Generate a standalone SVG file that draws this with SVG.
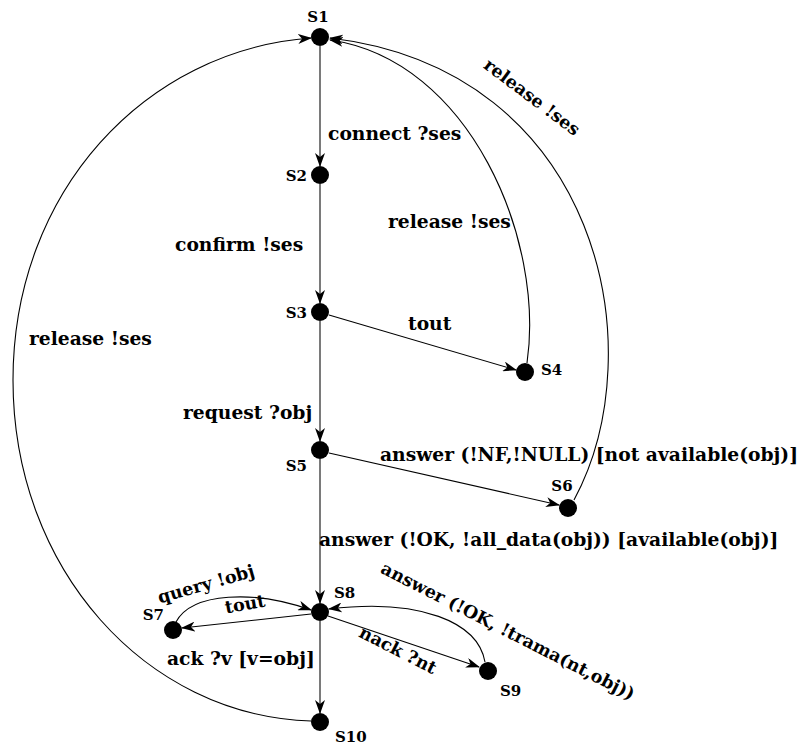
<svg xmlns="http://www.w3.org/2000/svg" width="806" height="746" viewBox="0 0 806 746">
  <style>
    .node { fill: #000; }
    .name { font-family: "DejaVu Serif", "Liberation Serif", serif; font-weight: bold; font-size: 15px; fill: #000; }
    .lbl { font-family: "DejaVu Serif", "Liberation Serif", serif; font-weight: bold; font-size: 18.7px; fill: #000; }
    .rot { font-family: "DejaVu Serif", "Liberation Serif", serif; font-weight: bold; font-size: 17.5px; fill: #000; }
    .spine { stroke: #7a7a7a; stroke-width: 2; fill: none; }
    .edge { stroke: #000; stroke-width: 1.1; fill: none; }
  </style>
  <defs>
    <marker id="ah" viewBox="0 0 14 10" refX="13" refY="5" markerWidth="14" markerHeight="10" markerUnits="userSpaceOnUse" orient="auto">
      <path d="M0,0 L14,5 L0,10 L4,5 Z" fill="#000"/>
    </marker>
  </defs>
  <rect width="806" height="746" fill="#fff"/>

  <g id="connectors">
    <!-- main vertical chain -->
    <path class="spine" d="M320,46 L320,166" marker-end="url(#ah)"/>
    <path class="spine" d="M320,184 L320,303" marker-end="url(#ah)"/>
    <path class="spine" d="M320,321 L320,441" marker-end="url(#ah)"/>
    <path class="spine" d="M320,459 L320,603" marker-end="url(#ah)"/>
    <path class="spine" d="M320,621 L320,713" marker-end="url(#ah)"/>
    <!-- S3 -> S4 tout -->
    <path class="edge" d="M329,315 L516,370" marker-end="url(#ah)"/>
    <!-- S4 -> S1 release -->
    <path class="edge" d="M527,363 C545,240 470,60 330,40" marker-end="url(#ah)"/>
    <!-- S6 -> S1 release -->
    <path class="edge" d="M574,500 C655,350 600,70 330,38" marker-end="url(#ah)"/>
    <!-- S5 -> S6 answer -->
    <path class="edge" d="M329,453 L559,505" marker-end="url(#ah)"/>
    <!-- S10 -> S1 release (left arc) -->
    <path class="edge" d="M311,721 C146,716 13,569 13,380 C13,191 146,50 311,38" marker-end="url(#ah)"/>
    <!-- S7 -> S8 query -->
    <path class="edge" d="M176,622 C192,592 255,590 311,610" marker-end="url(#ah)"/>
    <!-- S8 -> S7 tout -->
    <path class="edge" d="M311,614 L182,628" marker-end="url(#ah)"/>
    <!-- S8 -> S9 nack -->
    <path class="edge" d="M328,616 L479,667" marker-end="url(#ah)"/>
    <!-- S9 -> S8 answer -->
    <path class="edge" d="M485,662 C478,622 420,598 329,609" marker-end="url(#ah)"/>
  </g>

  <g id="S1"><circle class="node" cx="320" cy="37" r="9"/><text class="name" x="318" y="22" text-anchor="middle">S1</text></g>
  <g id="S2"><circle class="node" cx="320" cy="175" r="9"/><text class="name" x="307" y="181" text-anchor="end">S2</text></g>
  <g id="S3"><circle class="node" cx="320" cy="312" r="9"/><text class="name" x="307" y="318" text-anchor="end">S3</text></g>
  <g id="S4"><circle class="node" cx="525" cy="372" r="9"/><text class="name" x="541" y="375">S4</text></g>
  <g id="S5"><circle class="node" cx="320" cy="450" r="9"/><text class="name" x="307" y="471" text-anchor="end">S5</text></g>
  <g id="S6"><circle class="node" cx="568" cy="508" r="9"/><text class="name" x="562" y="491" text-anchor="middle">S6</text></g>
  <g id="S7"><circle class="node" cx="173" cy="630" r="9"/><text class="name" x="164" y="620" text-anchor="end">S7</text></g>
  <g id="S8"><circle class="node" cx="320" cy="612" r="9"/><text class="name" x="334" y="598">S8</text></g>
  <g id="S9"><circle class="node" cx="488" cy="671" r="9"/><text class="name" x="500" y="696">S9</text></g>
  <g id="S10"><circle class="node" cx="320" cy="722" r="9"/><text class="name" x="335" y="742">S10</text></g>

  <g id="labels">
    <text class="lbl" x="328" y="140">connect ?ses</text>
    <text class="lbl" x="175" y="251">confirm !ses</text>
    <text class="lbl" x="388" y="228">release !ses</text>
    <text class="lbl" x="408" y="330">tout</text>
    <text class="lbl" x="29" y="345">release !ses</text>
    <text class="lbl" x="183" y="419">request ?obj</text>
    <text class="lbl" x="380" y="461">answer (!NF,!NULL) [not available(obj)]</text>
    <text class="lbl" x="319" y="546">answer (!OK, !all_data(obj)) [available(obj)]</text>
    <text class="lbl" x="167" y="665">ack ?v [v=obj]</text>
    <text class="rot" text-anchor="middle" transform="translate(532,97) rotate(37)" y="6">release !ses</text>
    <text class="rot" text-anchor="middle" transform="translate(206,584) rotate(-16)" y="6">query !obj</text>
    <text class="rot" text-anchor="middle" transform="translate(245,604) rotate(-10)" y="6">tout</text>
    <text class="rot" text-anchor="middle" transform="translate(398,650) rotate(27)" y="6">nack ?nt</text>
    <text class="rot" text-anchor="middle" transform="translate(508,631) rotate(27)" y="6">answer (!OK, !trama(nt,obj))</text>
  </g>
</svg>
